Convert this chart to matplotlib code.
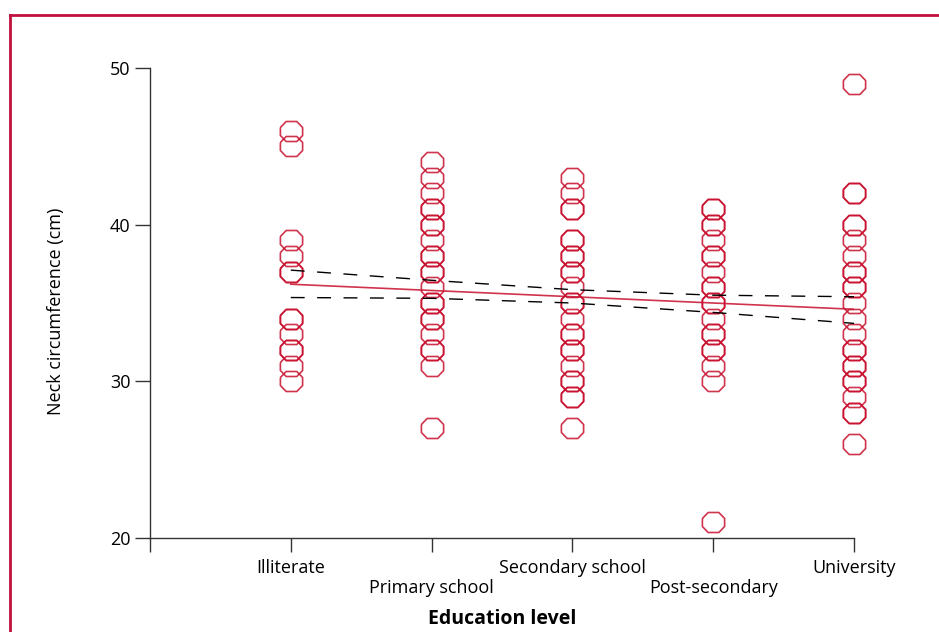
import matplotlib
matplotlib.use("Agg")
import matplotlib.pyplot as plt
from matplotlib.lines import Line2D

plt.rcParams['font.family'] = ['Open Sans', 'DejaVu Sans']

# categories on the x axis
categories = ['Illiterate', 'Primary school', 'Secondary school',
              'Post-secondary', 'University']

# neck circumference values (repeats = darker, overlapping rings)
illiterate = [46, 45, 39, 38, 37, 37, 34, 34, 33, 32, 32, 31, 30]
primary = [44, 43, 42, 41, 41, 40, 40, 39, 38, 38, 37, 37, 36, 35, 35,
           34, 34, 33, 32, 32, 31, 27]
secondary = [43, 42, 41, 41, 39, 39, 38, 38, 37, 37, 36, 35, 35, 34, 33,
             33, 32, 32, 31, 30, 30, 29, 29, 27]
post_secondary = [41, 41, 40, 40, 39, 38, 38, 37, 36, 36, 35, 35, 34, 33,
                  33, 32, 32, 31, 30, 21]
university = [49, 42, 42, 40, 40, 39, 38, 37, 37, 36, 36, 35, 34, 33, 32,
              32, 31, 31, 30, 30, 29, 28, 28, 26]
groups = [illiterate, primary, secondary, post_secondary, university]

# fitted line and confidence band at each category
fit_line = [36.2, 35.8, 35.4, 35.0, 34.6]
ci_upper = [37.1, 36.45, 35.85, 35.5, 35.4]
ci_lower = [35.35, 35.3, 35.0, 34.4, 33.7]

red = '#c8102e'

fig = plt.figure(figsize=(9.39, 6.32), dpi=100)
ax = fig.add_axes([0.1597, 0.1487, 0.7498, 0.7437])

# slightly squashed octagon ring
octagon = [(-0.5, 0.18), (-0.5, -0.18), (-0.24, -0.45), (0.24, -0.45),
           (0.5, -0.18), (0.5, 0.18), (0.24, 0.45), (-0.24, 0.45), (-0.5, 0.18)]

positions = range(1, len(categories) + 1)
for pos, vals in zip(positions, groups):
    ax.plot([pos] * len(vals), vals, linestyle='none', marker=octagon,
            markersize=16, markerfacecolor='none', markeredgecolor=red,
            markeredgewidth=1.2, alpha=0.85, clip_on=False, zorder=3)

ax.plot(positions, fit_line, color=red, lw=1.2, alpha=0.85, zorder=4)
ax.plot(positions, ci_upper, color='black', lw=1.0, dashes=(10, 9), zorder=4)
ax.plot(positions, ci_lower, color='black', lw=1.0, dashes=(10, 9), zorder=4)

ax.set_xlim(0, 5)
ax.set_ylim(20, 50)
ax.set_yticks([20, 30, 40, 50])
ax.set_xticks([0, 1, 2, 3, 4, 5])
ax.set_xticklabels([''] + [c if i % 2 == 0 else '\n' + c
                           for i, c in enumerate(categories)],
                   linespacing=1.15)
ax.tick_params(axis='both', direction='out', length=10, width=1,
               color='#333333', labelsize=13, pad=5)
ax.tick_params(axis='y', length=11, pad=3)

for side in ['top', 'right']:
    ax.spines[side].set_visible(False)
for side in ['left', 'bottom']:
    ax.spines[side].set_color('#333333')
    ax.spines[side].set_linewidth(1)

ax.set_ylabel('Neck circumference (cm)', fontsize=13)
ax.yaxis.set_label_coords(-0.12, 0.483)
ax.set_xlabel('Education level', fontsize=14, fontweight='bold', labelpad=9)

# partial crimson frame around the figure
fig.add_artist(Line2D([10 / 939, 1.0], [1 - 15 / 632, 1 - 15 / 632],
                      transform=fig.transFigure, color='#c0103e', lw=2))
fig.add_artist(Line2D([10 / 939, 10 / 939], [0.0, 1 - 15 / 632],
                      transform=fig.transFigure, color='#c0103e', lw=2))

fig.savefig('out.png', dpi=100)
